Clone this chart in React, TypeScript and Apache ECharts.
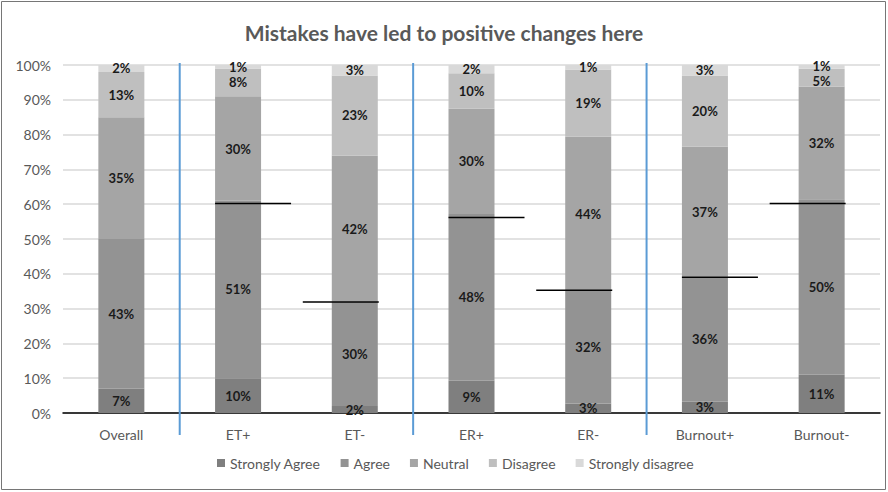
import React, { useEffect, useRef } from "react";
import * as echarts from "echarts";

const categories = ["Overall", "ET+", "ET-", "ER+", "ER-", "Burnout+", "Burnout-"];
const seriesNames = ["Strongly Agree", "Agree", "Neutral", "Disagree", "Strongly disagree"];
const stronglyAgree = [7, 10, 2, 9.3, 2.7, 3.2, 11.0];
const agree = [43, 51, 30, 47.9, 32.4, 36.0, 50.4];
const neutral = [35, 30, 42, 30.2, 44.3, 37.4, 32.4];
const disagree = [13, 8, 23, 10.2, 19.3, 20.4, 5.1];
const stronglyDisagree = [2, 1, 3, 2.4, 1.3, 3.0, 1.1];
const markerValues = [null, 60.2, 31.9, 56.2, 35.3, 39.0, 60.2];
const separatorsAfter = ["Overall", "ET-", "ER-"];
const yTicks = [0, 10, 20, 30, 40, 50, 60, 70, 80, 90, 100];

const colors = ["#7f7f7f", "#939393", "#a5a5a5", "#bfbfbf", "#d9d9d9"];
const FONT = "Lato, 'Noto Sans', sans-serif";

export default function App() {
  const ref = useRef<HTMLDivElement>(null);
  useEffect(() => {
    document.body.style.margin = "0";
    const chart = echarts.init(ref.current!, null, { renderer: "svg" });
    const values = [stronglyAgree, agree, neutral, disagree, stronglyDisagree];
    const barSeries = seriesNames.map((name, i) => ({
      name,
      type: "bar",
      stack: "total",
      barWidth: 46,
      itemStyle: { color: colors[i] },
      label: {
        show: true,
        position: "inside",
        formatter: (p: any) => Math.round(p.value) + "%",
        color: "#1a1a1a",
        fontWeight: "bold",
        fontSize: 13,
        lineHeight: 13,
        fontFamily: FONT,
      },
      data: values[i].map((v, j) => {
        // nudge labels of very thin adjacent segments apart
        const thinAbove = i < 4 && values[i + 1][j] < 1.5 && v < 6;
        const thinBelow = i > 0 && values[i - 1][j] < 6 && v < 1.5 && i === 4;
        if (thinAbove) return { value: v, label: { offset: [0, 3] } };
        if (thinBelow) return { value: v, label: { offset: [0, -1] } };
        return v;
      }),
    }));
    const markerData = markerValues
      .map((v, i) => (v == null ? null : [i, v]))
      .filter((d) => d !== null);
    const sepData = separatorsAfter.map((c) => [categories.indexOf(c), 100]);
    chart.setOption({
      animation: false,
      textStyle: { fontFamily: FONT },
      title: {
        text: "Mistakes have led to positive changes here",
        left: "center",
        top: 17,
        textStyle: { fontSize: 21, fontWeight: "bold", color: "#595959", fontFamily: FONT },
      },
      legend: {
        data: seriesNames,
        bottom: 17,
        left: 212,
        itemWidth: 8,
        itemHeight: 8,
        itemGap: 20,
        icon: "rect",
        textStyle: { fontSize: 14, color: "#595959", fontFamily: FONT },
      },
      grid: { left: 63, right: 8, top: 65, bottom: 79, containLabel: false },
      xAxis: {
        type: "category",
        data: categories,
        axisLine: { lineStyle: { color: "#000", width: 1.5 } },
        axisTick: { show: false },
        axisLabel: { color: "#595959", fontSize: 14, margin: 14, fontFamily: FONT },
      },
      yAxis: {
        type: "value",
        min: 0,
        max: 100,
        interval: 10,
        axisLine: { show: false },
        axisTick: { show: false },
        splitLine: { lineStyle: { color: "#d9d9d9", width: 1.5 } },
        axisLabel: {
          color: "#595959",
          fontSize: 14,
          margin: 12,
          fontFamily: FONT,
          formatter: (v: number) => (yTicks.includes(v) ? v + "%" : ""),
        },
      },
      series: [
        ...barSeries,
        {
          type: "custom",
          name: "markers",
          z: 5,
          data: markerData,
          renderItem: (params: any, api: any) => {
            const idx = api.value(0);
            const p = api.coord([idx, api.value(1)]);
            const off = categories[idx].endsWith("+") ? 15 : -14;
            return {
              type: "line",
              shape: { x1: p[0] + off - 38, y1: p[1], x2: p[0] + off + 38, y2: p[1] },
              style: { stroke: "#000", lineWidth: 1.5 },
            };
          },
        },
        {
          type: "custom",
          name: "separators",
          z: 4,
          clip: false,
          data: sepData,
          renderItem: (params: any, api: any) => {
            const idx = api.value(0);
            const a = api.coord([idx, 0]);
            const b = api.coord([idx + 1, 0]);
            const top = api.coord([idx, 100]);
            const x = (a[0] + b[0]) / 2;
            return {
              type: "line",
              shape: { x1: x, y1: top[1] - 2, x2: x, y2: a[1] + 22 },
              style: { stroke: "#5b9bd5", lineWidth: 2 },
            };
          },
        },
      ],
      graphic: [
        {
          type: "rect",
          shape: { x: 1.5, y: 1.5, width: 884, height: 488 },
          style: { fill: "none", stroke: "#767676", lineWidth: 1 },
          silent: true,
        },
      ],
    });
    return () => chart.dispose();
  }, []);
  return <div ref={ref} style={{ width: 888, height: 492 }} />;
}
